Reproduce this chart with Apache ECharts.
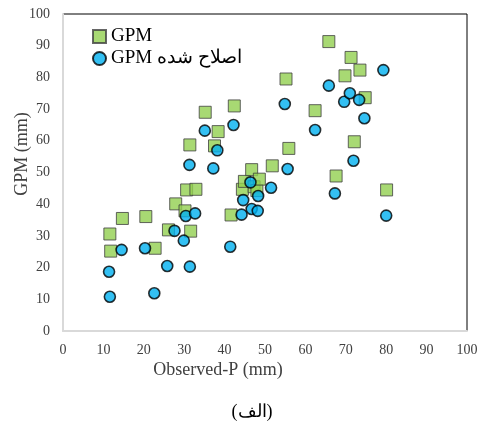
<!DOCTYPE html>
<html>
<head>
<meta charset="utf-8">
<script src="https://cdn.jsdelivr.net/npm/echarts@6/dist/echarts.min.js"></script>
<style>
  html, body { margin: 0; padding: 0; background: #fff; }
  #chart { width: 483px; height: 427px; }
</style>
</head>
<body>
<div id="chart"></div>
<script>
// GPM (squares)
var gpmObs = [11.6, 11.8, 14.7, 20.5, 22.8, 26.1, 27.9, 30.2, 30.6, 31.4, 31.6, 32.9,
  35.2, 37.5, 38.4, 41.6, 42.4, 44.4, 44.9, 46.7, 47.3, 48.0, 48.6, 51.8,
  55.2, 55.9, 62.4, 65.8, 67.6, 69.8, 71.3, 72.1, 73.5, 74.8, 80.1];
var gpmVal = [30.6, 25.2, 35.5, 36.1, 26.1, 31.9, 40.1, 37.9, 44.5, 58.7, 31.5, 44.7,
  69.0, 58.4, 62.9, 36.6, 71.0, 44.7, 47.2, 50.9, 45.5, 44.3, 47.9, 52.1,
  79.5, 57.6, 69.5, 91.3, 48.9, 80.5, 86.3, 59.7, 82.3, 73.6, 44.5];

// GPM اصلاح شده (circles)
var corrObs = [11.4, 11.6, 14.5, 20.3, 22.6, 25.8, 27.6, 29.9, 30.4, 31.3, 31.4, 32.7,
  35.1, 37.2, 38.2, 41.4, 42.2, 44.2, 44.6, 46.4, 46.7, 48.2, 48.3, 51.5,
  54.9, 55.6, 62.4, 65.8, 67.3, 69.6, 71.0, 71.9, 73.3, 74.6, 79.3, 80.0];
var corrVal = [18.7, 10.8, 25.6, 26.1, 11.9, 20.5, 31.6, 28.5, 36.3, 52.4, 20.3, 37.1,
  63.2, 51.3, 57.0, 26.6, 65.0, 36.7, 41.3, 46.9, 38.5, 37.9, 42.6, 45.2,
  71.6, 51.1, 63.4, 77.4, 43.4, 72.3, 75.0, 53.7, 72.9, 67.1, 82.3, 36.4];

var names = ["GPM", "GPM اصلاح شده"];
var axisTicks = [0, 100, 10]; // min, max, interval

var serif = "'Liberation Serif', 'Times New Roman', serif";

function pairs(xs, ys) {
  var out = [];
  for (var i = 0; i < xs.length; i++) {
    out.push([xs[i], ys[i]]);
  }
  return out;
}

var chart = echarts.init(document.getElementById("chart"));
var option = {
  animation: false,
  backgroundColor: "#fff",
  grid: {
    left: 63,
    right: 16,
    top: 14,
    bottom: 96,
    show: true,
    borderColor: "#000",
    borderWidth: 1
  },
  legend: {
    orient: "vertical",
    left: 87,
    top: 22,
    itemWidth: 13,
    itemHeight: 13,
    itemGap: 3,
    textStyle: { fontFamily: serif, fontSize: 19, color: "#000" },
    data: [
      { name: names[0], icon: "rect" },
      { name: names[1], icon: "circle" }
    ]
  },
  xAxis: {
    type: "value",
    min: axisTicks[0],
    max: axisTicks[1],
    interval: axisTicks[2],
    axisLine: { show: true, lineStyle: { color: "#d9d9d9", width: 2 } },
    axisTick: { show: false },
    splitLine: { show: false },
    axisLabel: { margin: 12, fontFamily: serif, fontSize: 14, color: "#404040" }
  },
  yAxis: {
    type: "value",
    min: axisTicks[0],
    max: axisTicks[1],
    interval: axisTicks[2],
    axisLine: { show: true, lineStyle: { color: "#d9d9d9", width: 2 } },
    axisTick: { show: false },
    splitLine: { show: false },
    axisLabel: { margin: 13, fontFamily: serif, fontSize: 14, color: "#404040" }
  },
  graphic: [
    {
      type: "text",
      x: 218,
      y: 370,
      style: { text: "Observed-P (mm)", font: "18px " + serif, fill: "#404040", align: "center", verticalAlign: "middle" }
    },
    {
      type: "text",
      x: 22,
      y: 154,
      rotation: Math.PI / 2,
      style: { text: "GPM (mm)", font: "18px " + serif, fill: "#404040", align: "center", verticalAlign: "middle" }
    },
    {
      type: "text",
      x: 252,
      y: 412,
      style: { text: "(الف)", font: "18px " + serif, fill: "#000", align: "center", verticalAlign: "middle" }
    }
  ],
  series: [
    {
      name: names[0],
      type: "scatter",
      symbol: "rect",
      symbolSize: 12,
      itemStyle: { color: "#92d050", borderColor: "#404040", borderWidth: 1 },
      data: pairs(gpmObs, gpmVal)
    },
    {
      name: names[1],
      type: "scatter",
      symbol: "circle",
      symbolSize: 11,
      itemStyle: { color: "#00b0f0", borderColor: "#000", borderWidth: 1.6 },
      data: pairs(corrObs, corrVal)
    }
  ]
};
chart.setOption(option);
</script>
</body>
</html>
